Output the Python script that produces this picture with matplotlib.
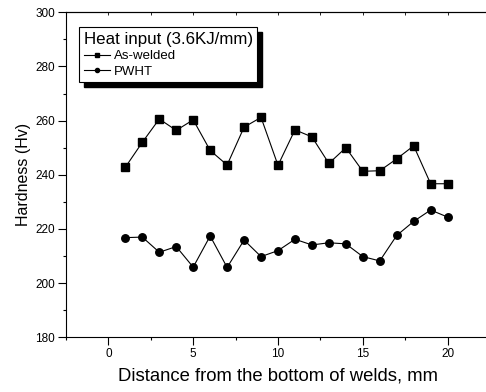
import matplotlib
matplotlib.use("Agg")
import matplotlib.pyplot as plt
from matplotlib.patches import Rectangle
from matplotlib.ticker import MultipleLocator

plt.rcParams['font.family'] = ['Liberation Sans', 'DejaVu Sans']

distance = list(range(1, 21))
as_welded = [242.8, 252.0, 260.6, 256.4, 260.3, 249.0, 243.6, 257.6, 261.2, 243.5,
             256.6, 254.0, 244.2, 250.0, 241.3, 241.5, 245.9, 250.7, 236.7, 236.7]
pwht = [216.8, 217.0, 211.4, 213.5, 205.9, 217.4, 205.8, 215.9, 209.8, 212.0,
        216.2, 214.1, 214.9, 214.5, 209.8, 208.2, 217.6, 222.8, 227.0, 224.4]
legend_title = "Heat input (3.6KJ/mm)"
series_labels = ["As-welded", "PWHT"]

fig = plt.figure(figsize=(4.86, 3.92), dpi=100)
ax = fig.add_axes([66/486, 1-337.3/392, (490-66)/486, (337.3-12.3)/392])

ax.plot(distance, as_welded, '-s', color='black', lw=0.8, ms=5.2, label=series_labels[0])
ax.plot(distance, pwht, '-o', color='black', lw=0.8, ms=5.4, label=series_labels[1])

ax.set_xlim(-2.5, 22.5)
ax.set_ylim(180, 300)
ax.xaxis.set_major_locator(MultipleLocator(5))
ax.xaxis.set_minor_locator(MultipleLocator(2.5))
ax.yaxis.set_major_locator(MultipleLocator(20))
ax.yaxis.set_minor_locator(MultipleLocator(10))
ax.tick_params(which='major', direction='out', length=5.5, width=0.8, labelsize=8.5, pad=2.5)
ax.tick_params(which='minor', direction='out', length=2.5, width=0.8)
ax.spines['right'].set_visible(False)
for s in ['left', 'bottom', 'top']:
    ax.spines[s].set_linewidth(0.8)

sec = ax.secondary_xaxis('top')
sec.xaxis.set_major_locator(MultipleLocator(5))
sec.xaxis.set_minor_locator(MultipleLocator(2.5))
sec.tick_params(which='both', direction='in', length=2, width=0.6, labeltop=False)
sec.spines['top'].set_linewidth(0.8)

ax.set_xlabel("Distance from the bottom of welds, mm", fontsize=13.3, labelpad=5)
ax.set_ylabel("Hardness (Hv)", fontsize=11.5, labelpad=3)

leg = ax.legend(title=legend_title, loc='upper left',
                bbox_to_anchor=(79/486, 1-27/392), bbox_transform=fig.transFigure,
                borderaxespad=0, fancybox=False, frameon=True, edgecolor='black',
                facecolor='white', framealpha=1,
                fontsize=9.5, title_fontsize=12.2, handlelength=2.0, handletextpad=0.3,
                labelspacing=0.25, borderpad=0.35, markerscale=0.55, alignment='left')
leg.get_frame().set_linewidth(0.8)
leg.set_zorder(5)

fig.canvas.draw()
bb = leg.get_window_extent()
sh = Rectangle((bb.x0 + 5, bb.y0 - 5), bb.width, bb.height, transform=None,
               facecolor='black', edgecolor='black', zorder=4, clip_on=False)
ax.add_patch(sh)

fig.savefig("out.png", dpi=100)
